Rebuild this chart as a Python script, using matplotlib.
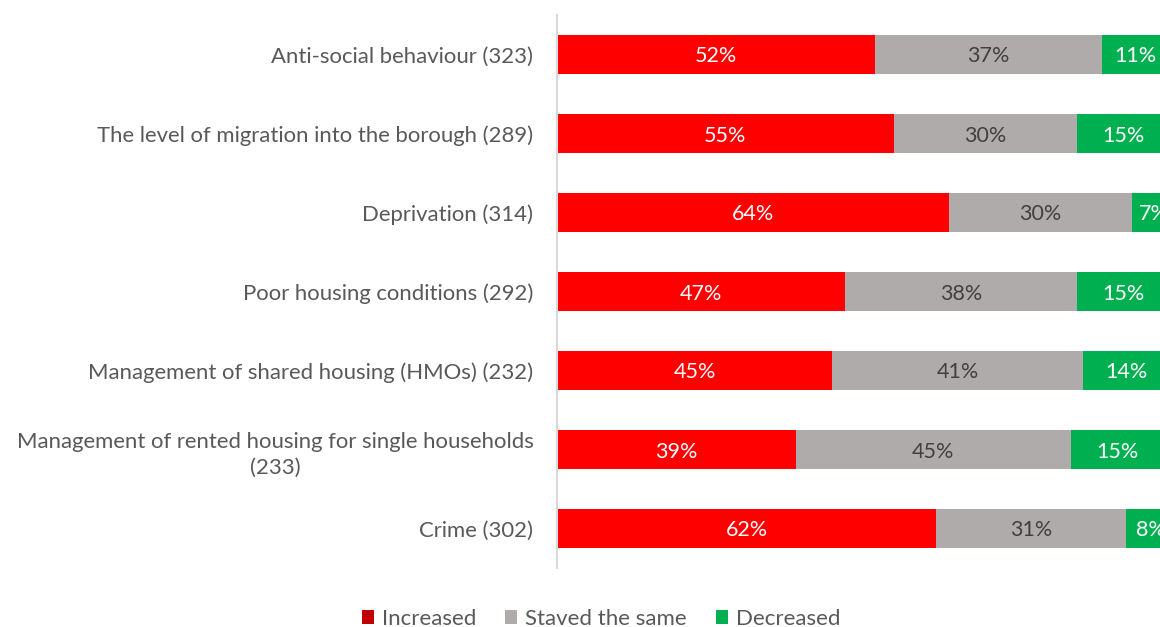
import matplotlib
matplotlib.use("Agg")
import matplotlib.pyplot as plt
from matplotlib.patches import Patch

plt.rcParams['font.family'] = ['Lato', 'DejaVu Sans']

categories = [
    "Anti-social behaviour (323)",
    "The level of migration into the borough (289)",
    "Deprivation (314)",
    "Poor housing conditions (292)",
    "Management of shared housing (HMOs) (232)",
    "Management of rented housing for single households\n(233)",
    "Crime (302)",
]
increased = [52, 55, 64, 47, 45, 39, 62]
stayed_same = [37, 30, 30, 38, 41, 45, 31]
decreased = [11, 15, 7, 15, 14, 15, 8]

series_names = ["Increased", "Staved the same", "Decreased"]
bar_colors = ["#FF0000", "#AFABAB", "#00B050"]
legend_colors = ["#C00000", "#AFABAB", "#00B050"]
label_colors = ["white", "#404040", "white"]

W, H = 1160, 627
fig = plt.figure(figsize=(W / 100, H / 100), dpi=100)
ax = fig.add_axes([557 / W, (H - 568) / H, 612 / W, 553 / H])

ypos = list(range(len(categories)))
left = [0] * len(categories)
for vals, color, lc in zip([increased, stayed_same, decreased], bar_colors, label_colors):
    ax.barh(ypos, vals, left=left, height=0.506, color=color, edgecolor="none")
    for y, l, v in zip(ypos, left, vals):
        ax.text(l + v / 2, y, f"{v}%", ha="center", va="center_baseline",
                color=lc, fontsize=15.5)
    left = [a + b for a, b in zip(left, vals)]

ax.set_xlim(0, 100)
ax.set_ylim(len(categories) - 0.5, -0.5)
ax.set_yticks(ypos)
ax.set_yticklabels(categories, fontsize=15.9, color="#595959", ha="right",
                   multialignment="center", linespacing=1.4)
ax.tick_params(axis="y", length=0, pad=17)
ax.set_xticks([])
for s in ["top", "right", "bottom"]:
    ax.spines[s].set_visible(False)
ax.spines["left"].set_color("#D9D9D9")
ax.spines["left"].set_linewidth(1.5)

handles = [Patch(facecolor=c, edgecolor="none") for c in legend_colors]
fig.legend(handles, series_names, loc="center", bbox_to_anchor=(601 / W, 1 - 619 / H),
           ncol=3, frameon=False, fontsize=16, labelcolor="#595959",
           handlelength=0.55, handleheight=0.55, handletextpad=0.35, columnspacing=1.3)

fig.savefig("out.png", dpi=100)
